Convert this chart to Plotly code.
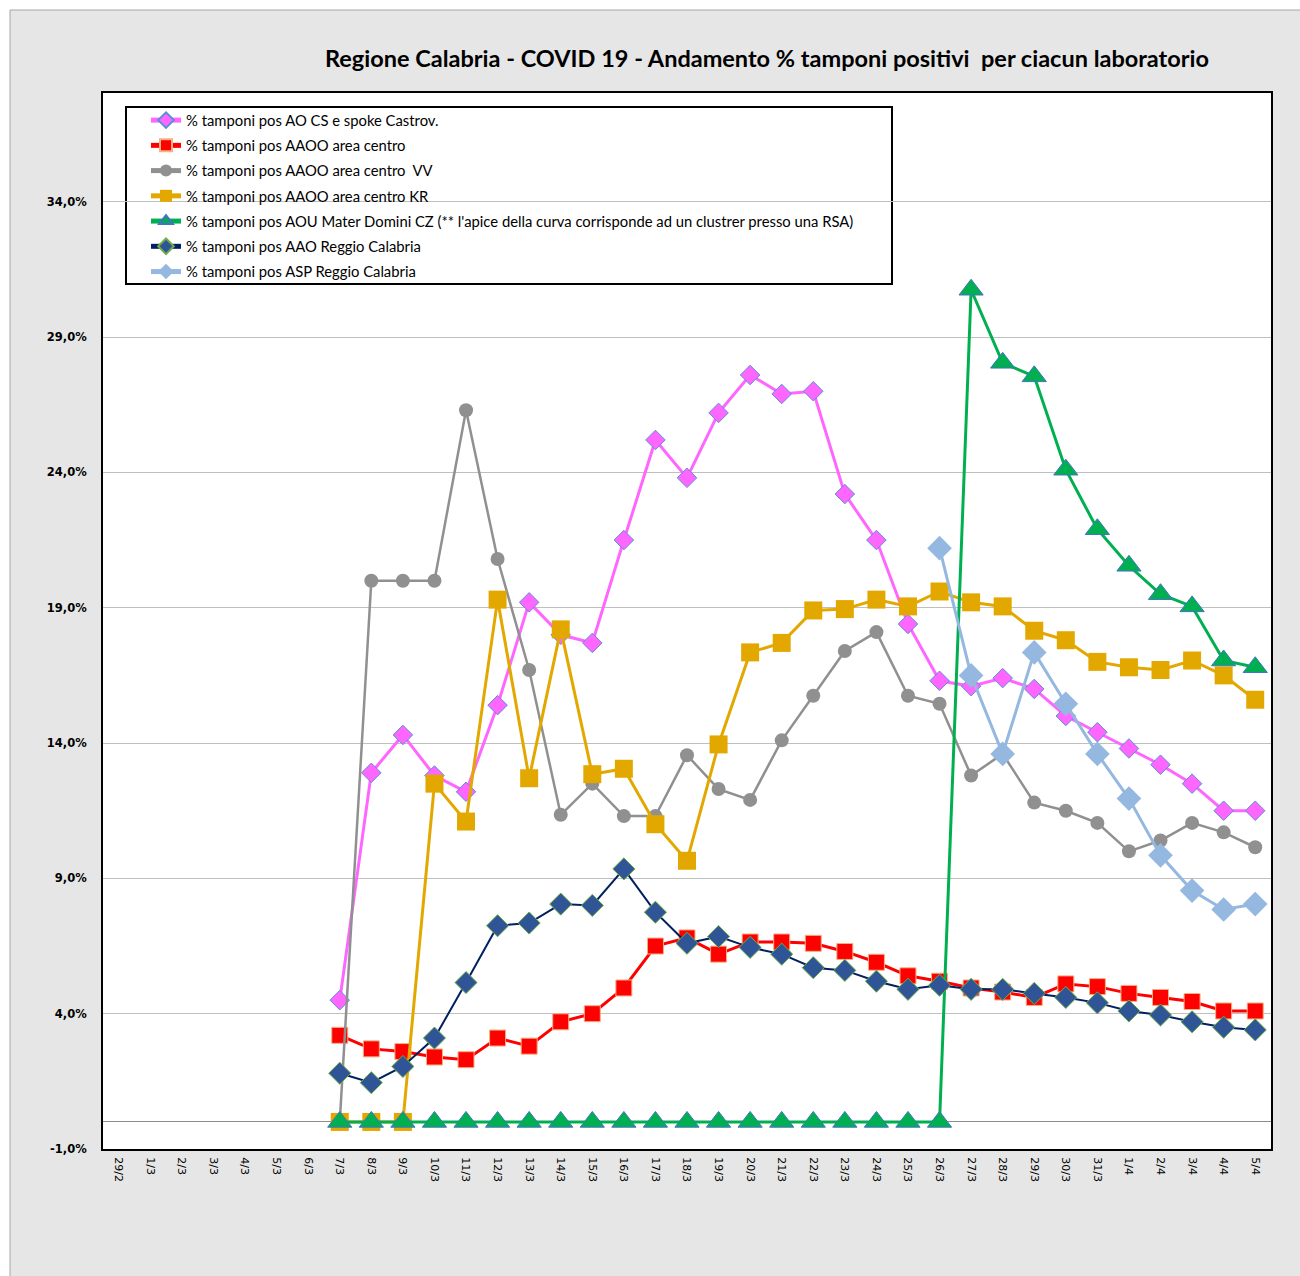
import plotly.graph_objects as go

dates = ["29/2"] + [f"{d}/3" for d in range(1, 32)] + [f"{d}/4" for d in range(1, 6)]

N = None
pre = [N] * 7  # 29/2 .. 6/3

cs_castrov = pre + [4.5, 12.9, 14.3, 12.8, 12.2, 15.4, 19.2, 18.0, 17.7, 21.5, 25.2, 23.8, 26.2, 27.6,
                    26.9, 27.0, 23.2, 21.5, 18.4, 16.3, 16.1, 16.4, 16.0, 15.0, 14.4, 13.8, 13.2, 12.5,
                    11.5, 11.5]
area_centro = pre + [3.2, 2.7, 2.6, 2.4, 2.3, 3.1, 2.8, 3.7, 4.0, 4.95, 6.5, 6.8, 6.2, 6.65, 6.65,
                     6.6, 6.3, 5.9, 5.4, 5.2, 4.95, 4.8, 4.6, 5.1, 5.0, 4.75, 4.6, 4.45, 4.1, 4.1]
centro_vv = pre + [0.0, 20.0, 20.0, 20.0, 26.3, 20.8, 16.7, 11.35, 12.5, 11.3, 11.3, 13.55, 12.3, 11.9,
                   14.1, 15.75, 17.4, 18.1, 15.75, 15.45, 12.8, 13.6, 11.8, 11.5, 11.05, 10.0, 10.4,
                   11.05, 10.7, 10.15]
centro_kr = pre + [0.0, 0.0, 0.0, 12.5, 11.1, 19.3, 12.7, 18.2, 12.85, 13.05, 11.0, 9.65, 13.95, 17.35,
                   17.7, 18.9, 18.95, 19.3, 19.05, 19.6, 19.2, 19.05, 18.15, 17.8, 17.0, 16.8, 16.7,
                   17.05, 16.5, 15.6]
mater_domini = pre + [0.0] * 20 + [30.75, 28.05, 27.55, 24.1, 21.9, 20.55, 19.5, 19.05, 17.05, 16.8]
aao_rc = pre + [1.8, 1.45, 2.05, 3.1, 5.15, 7.25, 7.35, 8.05, 8.0, 9.35, 7.75, 6.6, 6.85, 6.45, 6.2,
                5.7, 5.6, 5.2, 4.9, 5.05, 4.9, 4.9, 4.75, 4.6, 4.4, 4.1, 3.95, 3.7, 3.5, 3.4]
asp_rc = pre + [N] * 19 + [21.2, 16.5, 13.6, 17.35, 15.45, 13.6, 11.95, 9.85, 8.55, 7.85, 8.05]

names = [
    "% tamponi pos AO CS e spoke Castrov.",
    "% tamponi pos AAOO area centro",
    "% tamponi pos AAOO area centro  VV",
    "% tamponi pos AAOO area centro KR",
    "% tamponi pos AOU Mater Domini CZ (** l'apice della curva corrisponde ad un clustrer presso una RSA)",
    "% tamponi pos AAO Reggio Calabria",
    "% tamponi pos ASP Reggio Calabria",
]

y_ticks = [-1, 4, 9, 14, 19, 24, 29, 34]
y_ticktext = [f"{v},0%" for v in y_ticks]

series = [
    (cs_castrov, dict(color="#FF66FF", width=3), dict(symbol="diamond", size=15, color="#FF66FF",
                                                      line=dict(color="#5B8FD5", width=1))),
    (area_centro, dict(color="#FF0000", width=3), dict(symbol="square", size=16, color="#FF0000",
                                                       line=dict(color="#F4B183", width=1))),
    (centro_vv, dict(color="#909090", width=2.5), dict(symbol="circle", size=14, color="#909090",
                                                       line=dict(width=0))),
    (centro_kr, dict(color="#E3A800", width=3), dict(symbol="square", size=18, color="#E3A800",
                                                     line=dict(width=0))),
    (mater_domini, dict(color="#00B050", width=3), dict(symbol="triangle-up", size=21, color="#00B050",
                                                        line=dict(color="#4472C4", width=1))),
    (aao_rc, dict(color="#002060", width=2), dict(symbol="diamond", size=17, color="#2F5597",
                                                  line=dict(color="#70AD47", width=1))),
    (asp_rc, dict(color="#95B8E0", width=3), dict(symbol="diamond", size=19, color="#95B8E0",
                                                  line=dict(width=0))),
]

fig = go.Figure()
for i, (vals, ln, mk) in enumerate(series):
    fig.add_trace(go.Scatter(x=dates, y=vals, name=names[i], mode="lines+markers",
                             line=ln, marker=mk, legendgroup=f"g{i}", connectgaps=False))

W, H = 1300, 1276
L, R, T, B = 103, 1271, 93, 1149


def px(x):
    return (x - L) / (R - L)


def py(y):
    return (B - y) / (B - T)


shapes = [
    # white outer strips
    dict(type="rect", xref="paper", yref="paper", x0=px(-5), x1=px(W + 5), y0=py(10), y1=py(-5),
         fillcolor="white", line=dict(width=0), layer="below"),
    dict(type="rect", xref="paper", yref="paper", x0=px(-5), x1=px(10), y0=py(H + 5), y1=py(-5),
         fillcolor="white", line=dict(width=0), layer="below"),
    dict(type="line", xref="paper", yref="paper", x0=px(10), x1=px(W + 5), y0=py(10), y1=py(10),
         line=dict(color="#A6A6A6", width=1)),
    dict(type="line", xref="paper", yref="paper", x0=px(10), x1=px(10), y0=py(10), y1=py(H + 5),
         line=dict(color="#A6A6A6", width=1)),
    # legend box
    dict(type="rect", xref="paper", yref="paper", x0=px(126), x1=px(892), y0=py(284), y1=py(107),
         fillcolor="white", line=dict(color="black", width=2), layer="below"),
]

fig.update_layout(
    width=W, height=H,
    margin=dict(l=L, r=W - R, t=T, b=H - B),
    paper_bgcolor="#E6E6E6",
    plot_bgcolor="white",
    shapes=shapes,
    showlegend=True,
    legend=dict(x=px(146), y=py(104), xanchor="left", yanchor="top", bgcolor="rgba(0,0,0,0)",
                borderwidth=0, font=dict(family="Lato, Open Sans, sans-serif", size=14.8, color="black"),
                itemsizing="constant", tracegroupgap=3, itemwidth=30),
    annotations=[dict(text="<b>Regione Calabria - COVID 19 - Andamento % tamponi positivi  per ciacun laboratorio</b>",
                      xref="paper", yref="paper", x=px(767), y=py(58), xanchor="center", yanchor="middle",
                      showarrow=False, font=dict(family="Lato, Open Sans, sans-serif", size=23.5, color="black"))],
    xaxis=dict(type="category", categoryorder="array", categoryarray=dates, range=[-0.5, len(dates) - 0.5],
               tickangle=90, tickfont=dict(family="DejaVu Sans", size=11, color="black"),
               showline=True, linecolor="black", linewidth=2, mirror=True, showgrid=False,
               ticks="", ticklabelstandoff=4),
    yaxis=dict(range=[-1, 38.02], tickvals=y_ticks, ticktext=[f"<b>{t}</b>" for t in y_ticktext],
               tickfont=dict(family="DejaVu Sans", size=11.5, color="black"),
               showline=True, linecolor="black", linewidth=2, mirror=True,
               showgrid=True, gridcolor="#BFBFBF", gridwidth=1,
               zeroline=True, zerolinecolor="#8C8C8C", zerolinewidth=1,
               ticks="", ticklabelstandoff=12),
)

fig.write_html("out.html", config={"displayModeBar": False},
               post_script="document.body.style.margin='0';document.body.style.overflow='hidden';")
